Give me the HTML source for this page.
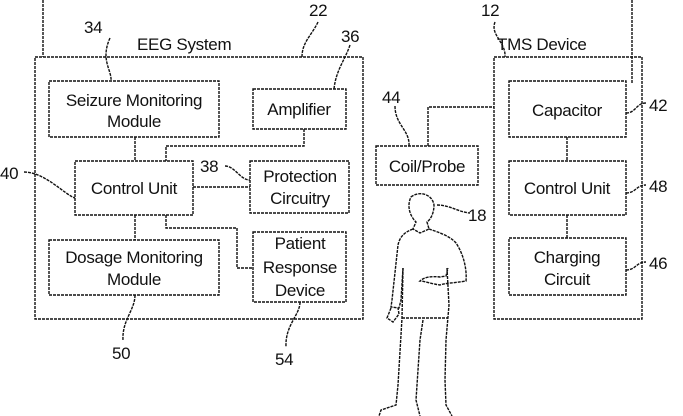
<!DOCTYPE html>
<html><head><meta charset="utf-8"><style>
html,body{margin:0;padding:0;background:#fff;}
svg{display:block}
text{font-family:"Liberation Sans",sans-serif;font-size:17px;fill:#111;letter-spacing:-0.3px}
</style></head><body>
<svg width="683" height="416" viewBox="0 0 683 416" xmlns="http://www.w3.org/2000/svg">
<g fill="none" stroke="#111" stroke-width="1.4" stroke-dasharray="3,1">
<line x1="43" y1="0" x2="43" y2="57"/>
<line x1="632" y1="0" x2="632" y2="83"/>
<rect x="35" y="57" width="328" height="262"/>
<rect x="49" y="81" width="170" height="56"/>
<rect x="253" y="89" width="93" height="40"/>
<rect x="75" y="161" width="118" height="54"/>
<rect x="250" y="161" width="99" height="52"/>
<rect x="49" y="240" width="170" height="55"/>
<rect x="253" y="232" width="93" height="70"/>
<rect x="494" y="57" width="148" height="262"/>
<rect x="509" y="81" width="117" height="56"/>
<rect x="509" y="161" width="117" height="54"/>
<rect x="509" y="238" width="117" height="57"/>
<rect x="376" y="146" width="102" height="39"/>
<polyline points="304,129 304,146 166,146 166,161"/>
<line x1="193" y1="187" x2="250" y2="187"/>
<polyline points="166,215 166,228 237,228 237,268 253,268"/>
<polyline points="428,146 428,107 494,107"/>
<path d="M110,38 C100,60 112,70 111,81"/>
<path d="M318,22 C312,35 302,42 302,57"/>
<path d="M350,45 C345,60 336,70 334,89"/>
<path d="M24,172 C45,172 65,195 75,198"/>
<path d="M225,166 C235,166 240,180 250,180"/>
<path d="M495,22 C490,35 506,42 505,57"/>
<path d="M395,106 C395,125 410,130 409,146"/>
<path d="M626,113 C636,113 636,103 646,103"/>
<path d="M626,193 C636,193 636,185 646,185"/>
<path d="M626,270 C636,270 636,262 646,262"/>
<path d="M135,295 C135,310 122,320 123,340"/>
<path d="M300,302 C300,315 285,325 286,347"/>
<path d="M437,205 C450,205 458,212 470,213"/>
<line x1="135" y1="137" x2="135" y2="161"/>
<line x1="135" y1="215" x2="135" y2="240"/>
<line x1="567" y1="137" x2="567" y2="161"/>
<line x1="567" y1="215" x2="567" y2="238"/>
<!-- person -->
<path d="M411,197 C418,191 432,193 434,205 C434,214 430,220 427,222 L429,229 L420,233 L413,229 L416,222 C409,215 407,205 411,197Z"/>
<path d="M413,229 C405,232 400,236 398,245 L392,300 L391,307 L399,308 L401,300 L403,268"/>
<path d="M391,308 L387,318 L393,322 L399,314 L398,308"/>
<path d="M429,229 C438,232 450,236 456,243 C464,255 467,270 466,281 C455,283 445,283 440,285 C432,284 424,281 420,281 C424,277 432,276 440,277 L446,276 L448,268"/>
<path d="M403,268 L402,318 L398,385 L396,405 L381,410 L379,416"/>
<path d="M447,268 L449,305 L446,340 L445,380 L446,405 L452,416"/>
<path d="M423,320 L420,340 L416,400 L420,416 M402,318 L448,318"/>
</g>
<text x="137" y="50">EEG System</text>
<text x="497" y="50">TMS Device</text>
<text x="134" y="106" text-anchor="middle">Seizure Monitoring</text>
<text x="134" y="127" text-anchor="middle">Module</text>
<text x="299" y="115" text-anchor="middle">Amplifier</text>
<text x="134" y="194" text-anchor="middle">Control Unit</text>
<text x="300" y="182" text-anchor="middle">Protection</text>
<text x="300" y="204" text-anchor="middle">Circuitry</text>
<text x="134" y="263" text-anchor="middle">Dosage Monitoring</text>
<text x="134" y="285" text-anchor="middle">Module</text>
<text x="300" y="249" text-anchor="middle">Patient</text>
<text x="300" y="273" text-anchor="middle">Response</text>
<text x="300" y="296" text-anchor="middle">Device</text>
<text x="567" y="116" text-anchor="middle">Capacitor</text>
<text x="567" y="194" text-anchor="middle">Control Unit</text>
<text x="567" y="263" text-anchor="middle">Charging</text>
<text x="567" y="285" text-anchor="middle">Circuit</text>
<text x="427" y="172" text-anchor="middle">Coil/Probe</text>
<g style="font-size:19px">
<text x="84" y="33">34</text>
<text x="309" y="16">22</text>
<text x="341" y="42">36</text>
<text x="0" y="179">40</text>
<text x="200" y="172">38</text>
<text x="481" y="16">12</text>
<text x="382" y="103">44</text>
<text x="649" y="111">42</text>
<text x="649" y="192">48</text>
<text x="649" y="269">46</text>
<text x="468" y="221">18</text>
<text x="112" y="359">50</text>
<text x="275" y="365">54</text>
</g>
</svg>
</body></html>
